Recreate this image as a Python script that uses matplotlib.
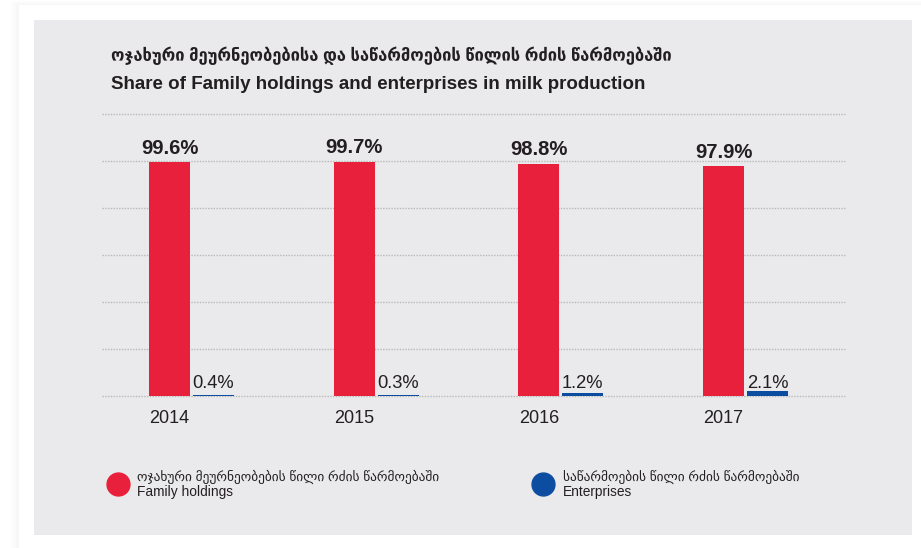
import matplotlib
matplotlib.use("Agg")
import matplotlib.pyplot as plt
from matplotlib.patches import Rectangle
from matplotlib.lines import Line2D
import numpy as np

plt.rcParams['font.family'] = ['Liberation Sans', 'DejaVu Sans']

years = ["2014", "2015", "2016", "2017"]
family = [99.6, 99.7, 98.8, 97.9]
enterprises = [0.4, 0.3, 1.2, 2.1]
title_ka = "ოჯახური მეურნეობებისა და საწარმოების წილის რძის წარმოებაში"
title_en = "Share of Family holdings and enterprises in milk production"
legend_ka = ["ოჯახური მეურნეობების წილი რძის წარმოებაში", "საწარმოების წილი რძის წარმოებაში"]
legend_en = ["Family holdings", "Enterprises"]

RED = "#E8203B"
BLUE = "#0D4DA1"
TXT = "#231F20"
PANEL = "#EAEAEC"

W, H = 921, 548
fig = plt.figure(figsize=(W / 100, H / 100), dpi=100)
fig.patch.set_facecolor("#ffffff")

def px(x, y, w, h):
    return (x / W, 1 - (y + h) / H, w / W, h / H)

# soft shadow of card
for i in range(10):
    a, b, c, d = px(19 - i, 5 - i * 0.5, W, H)
    fig.add_artist(Rectangle((a, b), c, d, transform=fig.transFigure,
                             facecolor="#000000", alpha=0.004, edgecolor="none", zorder=0))
a, b, c, d = px(19, 5, W, H)
fig.add_artist(Rectangle((a, b), c, d, transform=fig.transFigure,
                         facecolor="#ffffff", edgecolor="none", zorder=0.1))
a, b, c, d = px(34, 20, 912 - 34, 535 - 20)
fig.add_artist(Rectangle((a, b), c, d, transform=fig.transFigure,
                         facecolor=PANEL, edgecolor="none", zorder=0.2))

ax = fig.add_axes(px(102, 114, 845 - 102, 396 - 114))
ax.set_facecolor("none")
ax.set_zorder(1)

x = np.arange(len(years))
bw = 0.222
off = 0.238
ax.bar(x, family, width=bw, color=RED, zorder=3)
ax.bar(x + off, enterprises, width=bw, color=BLUE, zorder=3)

ax.set_xlim(-0.3655, 3.658)
ax.set_ylim(0, 120)
ax.set_yticks(np.arange(0, 121, 20))
ax.yaxis.grid(True, linestyle=(0, (1, 1)), color="#b8b8b8", linewidth=1.0, zorder=1)
ax.tick_params(axis="y", length=0, labelleft=False)
ax.set_xticks(x)
ax.set_xticklabels(years, fontsize=13, color=TXT)
ax.tick_params(axis="x", length=0, pad=10)
for s in ax.spines.values():
    s.set_visible(False)
for gl in ax.yaxis.get_gridlines():
    gl.set_clip_on(False)

for xi, v in zip(x, family):
    ax.annotate(f"{v:.1f}%", (xi, v), xytext=(0, 6), textcoords="offset points",
                ha="center", va="baseline", fontsize=14.6, fontweight="bold", color=TXT)
for xi, v in zip(x, enterprises):
    ax.annotate(f"{v:.1f}%", (xi + off, 0), xytext=(0, 6), textcoords="offset points",
                ha="center", va="baseline", fontsize=13.2, color=TXT)

# titles
fig.text(111 / W, 1 - 61 / H, title_ka, fontsize=11.9, fontweight="bold", color=TXT,
         ha="left", va="baseline")
fig.text(111 / W, 1 - 89 / H, title_en, fontsize=13.5, fontweight="bold", color=TXT,
         ha="left", va="baseline")

# legend
for cx, col, ka, en, tx in [(118, RED, legend_ka[0], legend_en[0], 137),
                            (543, BLUE, legend_ka[1], legend_en[1], 563)]:
    fig.add_artist(Line2D([cx / W], [1 - 484 / H], marker="o", markersize=16.5,
                          color=col, transform=fig.transFigure, linestyle="none"))
    fig.text(tx / W, 1 - 481 / H, ka, fontsize=9.6, color=TXT, ha="left", va="baseline")
    fig.text(tx / W, 1 - 496 / H, en, fontsize=9.9, color=TXT, ha="left", va="baseline")

fig.savefig("out.png", dpi=100)
